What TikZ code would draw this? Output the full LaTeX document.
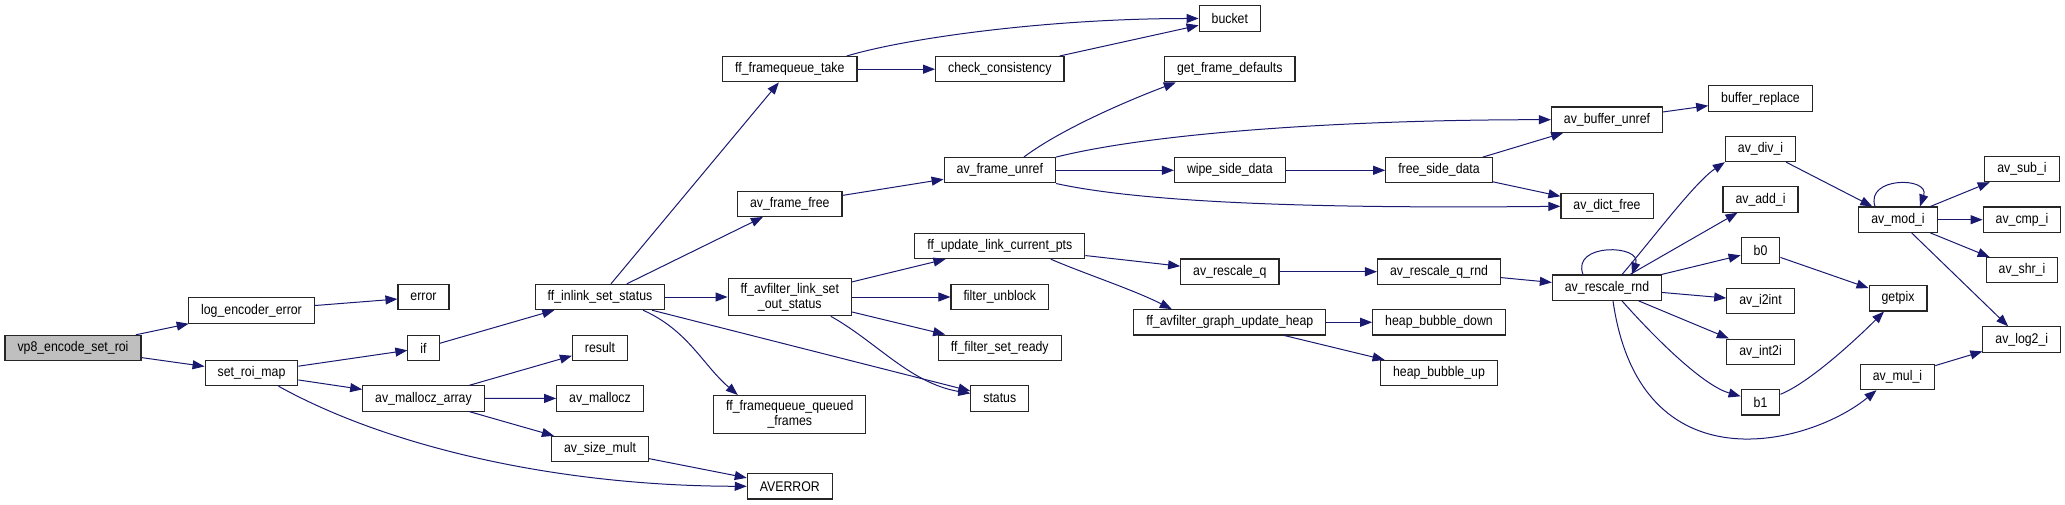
\documentclass[tikz,border=0pt]{standalone}
\usepackage{fontspec}
\setmainfont{Liberation Sans}[FakeStretch=0.88]
\usetikzlibrary{arrows.meta,positioning}

\definecolor{edgeblue}{HTML}{191970}
\definecolor{rootgray}{HTML}{BFBFBF}

\begin{document}
\begin{tikzpicture}[
  x=1pt, y=-1pt,
  >={Triangle[length=12pt,width=9pt]},
  fn/.style={
    rectangle, draw=black!85, line width=1.1pt, fill=white,
    align=center, minimum height=25.3pt,
    inner xsep=12.5pt, inner ysep=4.8pt,
    font=\fontsize{14}{15}\selectfont,
  },
  rootfn/.style={fn, fill=rootgray},
  call/.style={->, draw=edgeblue, line width=1pt},
]

\useasboundingbox (0,0) rectangle (2065,505);

%---------- callers, left part ----------
\node[rootfn] (vp8) at (73,348) {vp8\_encode\_set\_roi};
\node[fn] (logerr) at (251.5,310.5) {log\_encoder\_error};
\node[fn] (setroi) at (251.5,373) {set\_roi\_map};
\node[fn] (err) at (423.5,297) {error};
\node[fn] (iff) at (423.5,348) {if};
\node[fn] (mallarr) at (423.5,398.5) {av\_mallocz\_array};

\node[fn] (inlink) at (600,297) {ff\_inlink\_set\_status};
\node[fn] (result) at (600,347.7) {result};
\node[fn] (malloc) at (600,398.4) {av\_mallocz};
\node[fn] (sizemult) at (600,449) {av\_size\_mult};

%---------- middle ----------
\node[fn] (fqtake) at (789.8,69.2) {ff\_framequeue\_take};
\node[fn] (framefree) at (789.8,203.8) {av\_frame\_free};
\node[fn] (outstatus) at (789.8,297) {ff\_avfilter\_link\_set\\\_out\_status};
\node[fn] (fqqueued) at (789.8,414.3) {ff\_framequeue\_queued\\\_frames};
\node[fn] (averror) at (789.8,486.3) {AVERROR};

\node[fn] (checkcons) at (999.8,69.2) {check\_consistency};
\node[fn] (frameunref) at (999.8,170.3) {av\_frame\_unref};
\node[fn] (updpts) at (999.8,246) {ff\_update\_link\_current\_pts};
\node[fn] (unblock) at (999.8,297) {filter\_unblock};
\node[fn] (setready) at (999.8,347.7) {ff\_filter\_set\_ready};
\node[fn] (status) at (999.8,398.4) {status};

\node[fn] (bucket) at (1229.8,18.5) {bucket};
\node[fn] (getdef) at (1229.8,69.3) {get\_frame\_defaults};
\node[fn] (wipe) at (1229.8,170.3) {wipe\_side\_data};
\node[fn] (rescaleq) at (1229.8,271.7) {av\_rescale\_q};
\node[fn] (upheap) at (1229.8,322.3) {ff\_avfilter\_graph\_update\_heap};

\node[fn] (freeside) at (1439,170.3) {free\_side\_data};
\node[fn] (rescaleqrnd) at (1439,271.7) {av\_rescale\_q\_rnd};
\node[fn] (bubdown) at (1439,322.3) {heap\_bubble\_down};
\node[fn] (bubup) at (1439,373) {heap\_bubble\_up};

%---------- right part ----------
\node[fn] (bufunref) at (1607,119.7) {av\_buffer\_unref};
\node[fn] (dictfree) at (1607,206.3) {av\_dict\_free};
\node[fn] (rescalernd) at (1607,287.7) {av\_rescale\_rnd};

\node[fn] (bufrepl) at (1760.5,98.5) {buffer\_replace};
\node[fn] (divi) at (1760.5,149) {av\_div\_i};
\node[fn] (addi) at (1760.5,199.5) {av\_add\_i};
\node[fn] (bzero) at (1760.5,250.5) {b0};
\node[fn] (itoint) at (1760.5,301) {av\_i2int};
\node[fn] (inttoi) at (1760.5,351.7) {av\_int2i};
\node[fn] (bone) at (1760.5,402.3) {b1};

\node[fn] (modi) at (1898,219.7) {av\_mod\_i};
\node[fn] (getpix) at (1898,298.3) {getpix};
\node[fn] (muli) at (1897.5,377) {av\_mul\_i};

\node[fn] (subi) at (2022,169) {av\_sub\_i};
\node[fn] (cmpi) at (2022,219.7) {av\_cmp\_i};
\node[fn] (shri) at (2022,270.3) {av\_shr\_i};
\node[fn] (log2i) at (2021.8,339.5) {av\_log2\_i};

%---------- straight calls ----------
\foreach \src/\dst in {vp8/logerr, vp8/setroi, logerr/err, setroi/iff,
    setroi/mallarr, iff/inlink, mallarr/result, mallarr/malloc,
    mallarr/sizemult, sizemult/averror, inlink/fqtake, inlink/framefree,
    inlink/outstatus, inlink/status, fqtake/checkcons, checkcons/bucket,
    framefree/frameunref, frameunref/wipe, wipe/freeside, freeside/bufunref,
    freeside/dictfree, bufunref/bufrepl, outstatus/updpts, outstatus/unblock,
    outstatus/setready, updpts/rescaleq, rescaleq/rescaleqrnd,
    rescaleqrnd/rescalernd, upheap/bubdown, upheap/bubup, rescalernd/addi,
    rescalernd/bzero, rescalernd/itoint, rescalernd/inttoi, divi/modi,
    bzero/getpix, modi/subi, modi/cmpi, modi/shri, modi/log2i, muli/log2i}{
  \draw[call] (\src) -- (\dst);
}

%---------- curved calls ----------
\draw[call] ([xshift=27pt]setroi.south) .. controls (390,448) and (560,486) .. (averror.west);
\draw[call] ([xshift=43pt]inlink.south) .. controls +(45,20) and +(-35,-30) .. ([xshift=-52pt]fqqueued.north);
\draw[call] ([xshift=41pt]outstatus.south) .. controls +(45,25) and +(-60,-10) .. ([yshift=5pt]status.west);
\draw[call] ([xshift=51pt]updpts.south) .. controls +(35,15) and +(-40,-20) .. ([xshift=-58pt]upheap.north);
\draw[call] ([xshift=57pt]fqtake.north) .. controls +(60,-18) and +(-150,0) .. (bucket.west);
\draw[call] ([xshift=24pt]frameunref.north) .. controls +(40,-30) and +(-40,15) .. ([xshift=-54pt]getdef.south);
\draw[call] (frameunref.north east) .. controls +(100,-25) and +(-200,0) .. (bufunref.west);
\draw[call] (frameunref.south east) .. controls +(100,22) and +(-200,2) .. (dictfree.west);
\draw[call] ([xshift=15pt]rescalernd.north) .. controls +(30,-35) and +(-30,20) .. (divi.south west);
\draw[call] ([xshift=15pt]rescalernd.south) .. controls +(40,45) and +(-35,-10) .. ([yshift=6pt]bone.west);
\draw[call] ([xshift=6pt]rescalernd.south) .. controls (1640,490) and (1810,445) .. ([xshift=-21pt]muli.south);
\draw[call] ([yshift=8pt]bone.east) .. controls +(30,-12) and +(-25,25) .. ([xshift=-14pt]getpix.south);

% self calls
\draw[call] ([xshift=-24pt]rescalernd.north) .. controls +(-12,-32) and +(10,-30) .. ([xshift=25pt]rescalernd.north);
\draw[call] ([xshift=-23pt]modi.north) .. controls +(-10,-30) and +(10,-30) .. ([xshift=22pt]modi.north);

\end{tikzpicture}
\end{document}
